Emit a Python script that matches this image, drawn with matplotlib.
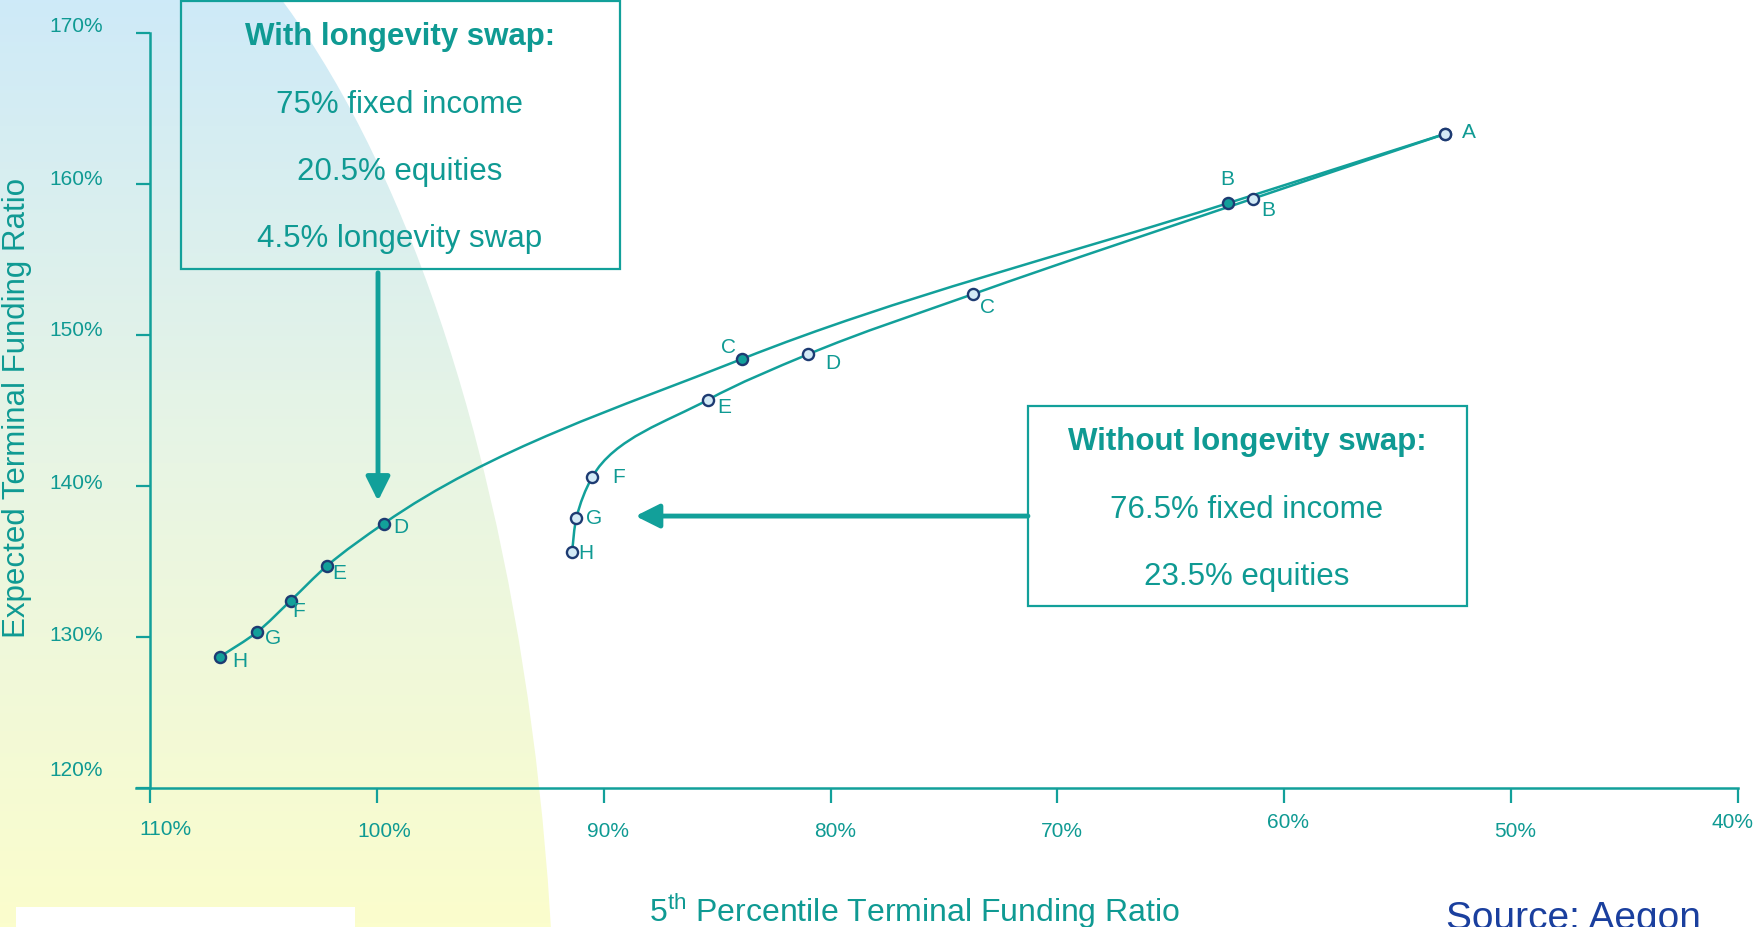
import numpy as np
import matplotlib
matplotlib.use('Agg')
import matplotlib.pyplot as plt
from matplotlib.path import Path
from matplotlib.patches import PathPatch, Ellipse, Rectangle
from matplotlib.transforms import ScaledTranslation

# values, in percent
point_names = ['A', 'B', 'C', 'D', 'E', 'F', 'G', 'H']
with_swap_x = [52.9, 62.5, 83.9, 99.7, 102.2, 103.8, 105.3, 106.9]
with_swap_y = [163.3, 158.7, 148.4, 137.5, 134.7, 132.4, 130.3, 128.7]
without_swap_x = [52.9, 61.4, 73.7, 81.0, 85.4, 90.5, 91.2, 91.4]
without_swap_y = [163.3, 159.0, 152.7, 148.7, 145.7, 140.6, 137.9, 135.6]

x_ticks = [110, 100, 90, 80, 70, 60, 50, 40]
y_ticks = [120, 130, 140, 150, 160, 170]

with_swap_box = ['With longevity swap:', '75% fixed income', '20.5% equities', '4.5% longevity swap']
without_swap_box = ['Without longevity swap:', '76.5% fixed income', '23.5% equities']

# label offsets (points) for the letters, A..H
with_offsets = [(17, 2), (0, 18), (-10, 9), (12, -2), (9, -5), (6, -7), (12, -4), (14, -3)]
without_offsets = [None, (11, -8), (10, -9), (18, -6), (12, -5), (19, 0), (13, 0), (10, 0)]

TEAL = '#12a09a'
TEXT = '#0f9a93'
NAVY = '#1d3b72'
PALE = '#d3eaf6'
W, H = 1754, 928


def smooth_path(xs, ys, sx, sy):
    # cubic through the points with Bessel tangents, worked out in pixel-like units
    p = np.column_stack([xs, ys]) * [sx, sy]
    n = len(p)
    seg = np.diff(p, axis=0)
    d = np.hypot(*seg.T)
    u = seg / d[:, None]
    m = np.zeros_like(p)
    m[0] = u[0]
    m[-1] = u[-1]
    for i in range(1, n - 1):
        m[i] = (d[i] * u[i - 1] + d[i - 1] * u[i]) / (d[i - 1] + d[i])
    verts = [p[0]]
    codes = [Path.MOVETO]
    for i in range(n - 1):
        verts += [p[i] + m[i] * d[i] / 3, p[i + 1] - m[i + 1] * d[i] / 3, p[i + 1]]
        codes += [Path.CURVE4] * 3
    return Path(np.array(verts) / [sx, sy], codes)


def main():
    plt.rcParams['font.family'] = ['Liberation Sans', 'DejaVu Sans']
    plt.rcParams['mathtext.fontset'] = 'custom'
    plt.rcParams['mathtext.rm'] = 'Liberation Sans'

    fig = plt.figure(figsize=(W / 100, H / 100), dpi=100)

    # background: gradient quarter-ellipse on the left
    bg = fig.add_axes([0, 0, 1, 1], zorder=0)
    bg.set_xlim(0, W)
    bg.set_ylim(H, 0)
    bg.axis('off')
    top = np.array([206, 234, 248]) / 255
    mid = np.array([232, 245, 228]) / 255
    bot = np.array([251, 253, 204]) / 255
    t = np.linspace(0, 1, 256)[:, None]
    grad = np.where(t < 0.5, top + (mid - top) * (t / 0.5), mid + (bot - mid) * ((t - 0.5) / 0.5))
    img = bg.imshow(grad[:, None, :], extent=[0, W, H, 0], aspect='auto')
    clip = Ellipse((0, 1100), 2 * 556, 2 * 1275, transform=bg.transData, facecolor='none', edgecolor='none')
    bg.add_patch(clip)
    img.set_clip_path(clip)
    bg.add_patch(Rectangle((16, 908), 339, 25, facecolor='white', edgecolor='none'))

    # boxes
    bg.add_patch(Rectangle((181, 2), 439, 268, facecolor='none', edgecolor=TEAL, lw=1.6))
    bg.add_patch(Rectangle((1028, 407), 439, 200, facecolor='white', edgecolor=TEAL, lw=1.6))
    for line, yy in zip(with_swap_box, [37, 105, 172, 239]):
        bold = line.endswith(':')
        bg.text(400, yy, line, ha='center', va='center', color=TEXT, fontsize=22.5,
                fontweight='bold' if bold else 'normal')
    for line, yy in zip(without_swap_box, [442, 510, 577]):
        bold = line.endswith(':')
        bg.text(1247, yy, line, ha='center', va='center', color=TEXT, fontsize=22.5,
                fontweight='bold' if bold else 'normal')

    # main axes: 110% sits at x=150px, 40% at x=1738px, 120% at y=789px, 170% at y=33.6px
    xpx = (1738 - 150) / 70
    left = 150 - 0.6 * xpx
    ax = fig.add_axes([left / W, 1 - 789 / H, (1738 - left) / W, (789 - 33.6) / H], zorder=1)
    ax.patch.set_alpha(0)
    ax.set_xlim(110.6, 40)
    ax.set_ylim(120, 170)
    ypx = (789 - 33.6) / 50
    ax.spines['left'].set_position(('data', 110))
    for s in ['top', 'right']:
        ax.spines[s].set_visible(False)
    for s in ['left', 'bottom']:
        ax.spines[s].set_color(TEAL)
        ax.spines[s].set_linewidth(1.8)
    ax.set_xticks(x_ticks, [f'{v}%' for v in x_ticks])
    ax.set_yticks(y_ticks, [f'{v}%' for v in y_ticks])
    ax.tick_params(axis='y', length=10, width=1.6, color=TEAL, labelcolor=TEXT, labelsize=15, pad=24)
    ax.tick_params(axis='x', length=11, width=1.6, color=TEAL, labelcolor=TEXT, labelsize=15, pad=13)

    y_shift = [15, 3, 4, 5, 5.5, 6.5]
    for lab, dy in zip(ax.get_yticklabels(), y_shift):
        lab.set_transform(lab.get_transform() + ScaledTranslation(0, dy / 72, fig.dpi_scale_trans))
    x_shift = [(11, 2), (5, 0), (3, 0), (3, 0), (3, 0), (3, 7), (3, 0), (-4, 7)]
    for lab, (dx, dy) in zip(ax.get_xticklabels(), x_shift):
        lab.set_transform(lab.get_transform() + ScaledTranslation(dx / 72, dy / 72, fig.dpi_scale_trans))

    for xs, ys in [(with_swap_x, with_swap_y), (without_swap_x, without_swap_y)]:
        ax.add_patch(PathPatch(smooth_path(xs, ys, xpx, ypx), facecolor='none', edgecolor=TEAL,
                               lw=1.8, zorder=2))
    ax.plot(with_swap_x, with_swap_y, 'o', ls='none', markersize=8, markerfacecolor=TEAL,
            markeredgecolor=NAVY, markeredgewidth=1.7, zorder=3)
    ax.plot(without_swap_x, without_swap_y, 'o', ls='none', markersize=8, markerfacecolor=PALE,
            markeredgecolor=NAVY, markeredgewidth=1.7, zorder=4)

    for name, x, y, off in zip(point_names, with_swap_x, with_swap_y, with_offsets):
        ax.annotate(name, (x, y), xytext=off, textcoords='offset points', ha='center', va='center',
                    color=TEXT, fontsize=15)
    for name, x, y, off in zip(point_names, without_swap_x, without_swap_y, without_offsets):
        if off is None:
            continue
        ax.annotate(name, (x, y), xytext=off, textcoords='offset points', ha='center', va='center',
                    color=TEXT, fontsize=15)

    # arrows from the boxes
    arrow = dict(arrowstyle='-|>', color=TEAL, lw=3.5, mutation_scale=36, shrinkA=0, shrinkB=0)
    ax.annotate('', xy=(99.95, 139.0), xytext=(99.95, 154.1), arrowprops=arrow)
    ax.annotate('', xy=(88.6, 138.0), xytext=(71.3, 138.0), arrowprops=arrow)

    fig.text(17 / W, 1 - 408 / H, 'Expected Terminal Funding Ratio', rotation=90, ha='center', va='center',
             color=TEXT, fontsize=22.5)
    fig.text(915 / W, 1 - 922 / H, r'5$^{\rm th}$ Percentile Terminal Funding Ratio', ha='center', va='baseline',
             color=TEXT, fontsize=23)
    fig.text(1446 / W, 1 - 901 / H, 'Source: Aegon', ha='left', va='top', color='#1a3f9e', fontsize=28)

    fig.savefig('out.png', dpi=100)


if __name__ == '__main__':
    main()
